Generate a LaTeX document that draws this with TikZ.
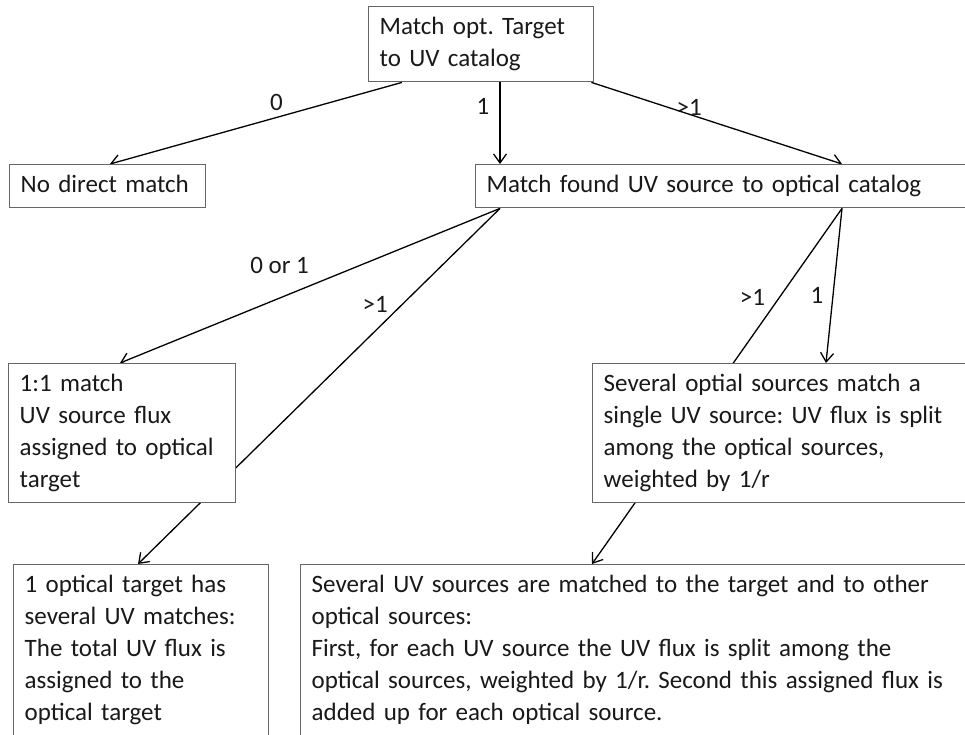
\documentclass[tikz,border=0pt]{standalone}
\usepackage{fontspec}
\setmainfont{Carlito}
\usetikzlibrary{arrows.meta,backgrounds}
\frenchspacing

\tikzset{
  box/.style={draw=black!60, line width=1.4pt, fill=white, anchor=north west,
    align=left, inner xsep=11pt, inner ysep=5.5pt, text=black!90,
    font=\fontsize{25}{32}\selectfont,
    execute at begin node=\strut, execute at end node=\strut},
  conn/.style={line width=1.3pt, -{Straight Barb[length=9pt,width=13pt]}},
  lbl/.style={font=\fontsize{25}{32}\selectfont, text=black!90, inner sep=1pt}
}

\begin{document}
\begin{tikzpicture}[x=1pt,y=-1pt]
\useasboundingbox (0,0) rectangle (965,734);
\clip (0,0) rectangle (965,734);
% boxes
\node[box, text width=203pt] (tgt) at (368,6) {Match opt. Target\\to UV catalog};
\node[box, text width=174pt] (none) at (9,164) {No direct match};
\node[box, text width=540pt] (uvopt) at (475,164) {Match found UV source to optical catalog};
\node[box, text width=205pt] (one) at (8,363) {1:1 match\\UV source flux\\assigned to optical\\target};
\node[box, text width=400pt] (optial) at (592,363) {Several optial sources match a\\single UV source: UV flux is split\\among the optical sources,\\weighted by 1/r};
\node[box, text width=233pt] (multi) at (13,564) {1 optical target has\\several UV matches:\\The total UV flux is\\assigned to the\\optical target};
\node[box, text width=700pt] (split) at (300,564) {Several UV sources are matched to the target and to other\\optical sources:\\First, for each UV source the UV flux is split among the\\optical sources, weighted by 1/r. Second this assigned flux is\\added up for each optical source.};
% connectors, behind the boxes
\begin{scope}[on background layer]
\draw[conn] ([xshift=34pt]tgt.south west) -- node[lbl, pos=.43, yshift=15pt] {0} ([xshift=101pt]none.north west);
\draw[conn] ([xshift=132pt]tgt.south west) -- node[lbl, pos=.3, xshift=-17pt] {1} ([xshift=25pt]uvopt.north west);
\draw[conn] ([xshift=-3pt]tgt.south east) -- node[lbl, pos=.39, yshift=7pt] {>1} ([xshift=367pt]uvopt.north west);
\draw[conn] ([xshift=25pt]uvopt.south west) -- node[lbl, pos=.58, yshift=33pt] {0 or 1} ([xshift=112pt]one.north west);
\draw[conn] ([xshift=25pt]uvopt.south west) -- node[lbl, pos=.27, xshift=-27pt] {>1} ([xshift=125pt]multi.north west);
\draw[conn] ([xshift=367pt]uvopt.south west) -- node[lbl, pos=.56, xshift=-16pt] {1} ([xshift=234pt]optial.north west);
\draw[conn] ([xshift=367pt]uvopt.south west) -- node[lbl, pos=.25, xshift=-27pt] {>1} ([xshift=292pt]split.north west);
\end{scope}
\end{tikzpicture}
\end{document}
